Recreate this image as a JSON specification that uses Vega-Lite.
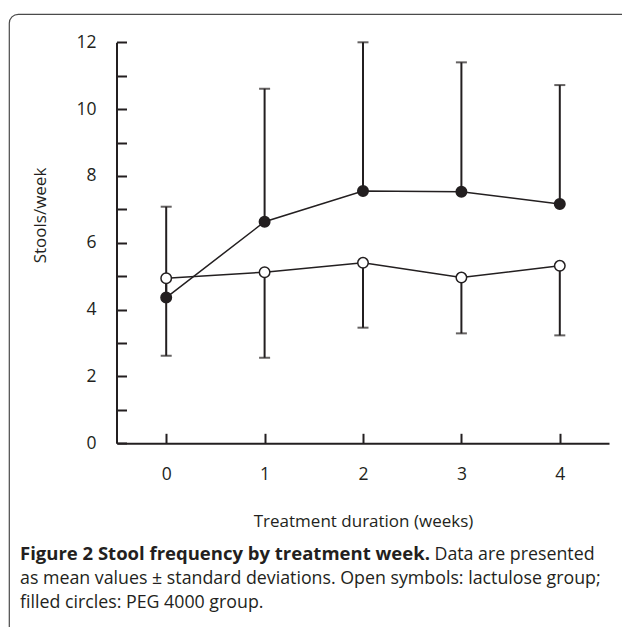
{
  "$schema": "https://vega.github.io/schema/vega-lite/v6.json",
  "width": 640,
  "height": 640,
  "autosize": {"type": "none"},
  "padding": {"left": 9, "top": 14, "right": 0, "bottom": 0},
  "background": "white",
  "config": {
    "view": {"stroke": "#4a4a4a", "strokeWidth": 1.2, "cornerRadius": 9, "fill": "white"},
    "font": "Open Sans",
    "axis": {
      "grid": false,
      "domainColor": "#231f20",
      "domainWidth": 2,
      "tickColor": "#231f20",
      "tickWidth": 2,
      "tickSize": -10,
      "labelFont": "Open Sans",
      "labelFontSize": 17.5,
      "labelColor": "#231f20",
      "titleFont": "Open Sans",
      "titleFontSize": 17,
      "titleFontWeight": "normal",
      "titleColor": "#231f20"
    }
  },
  "title": {
    "text": "Figure 2 Stool frequency by treatment week.",
    "subtitle": ["as mean values ± standard deviations. Open symbols: lactulose group;", "filled circles: PEG 4000 group."],
    "orient": "bottom",
    "anchor": "start",
    "frame": "group",
    "offset": 0,
    "dx": 11,
    "dy": -109,
    "baseline": "top",
    "font": "Open Sans",
    "fontSize": 18.5,
    "fontWeight": "bold",
    "color": "#231f20",
    "subtitleFont": "Open Sans",
    "subtitleFontSize": 17.8,
    "subtitleColor": "#231f20",
    "subtitlePadding": 6,
    "subtitleLineHeight": 24.5
  },
  "datasets": {
    "means": [
      {"week": 0, "group": "PEG 4000", "mean": 4.36},
      {"week": 1, "group": "PEG 4000", "mean": 6.63},
      {"week": 2, "group": "PEG 4000", "mean": 7.55},
      {"week": 3, "group": "PEG 4000", "mean": 7.53},
      {"week": 4, "group": "PEG 4000", "mean": 7.16},
      {"week": 0, "group": "lactulose", "mean": 4.94},
      {"week": 1, "group": "lactulose", "mean": 5.12},
      {"week": 2, "group": "lactulose", "mean": 5.40},
      {"week": 3, "group": "lactulose", "mean": 4.96},
      {"week": 4, "group": "lactulose", "mean": 5.31}
    ],
    "bars": [
      {"week": 0, "group": "PEG 4000", "start": 4.36, "cap": 7.08},
      {"week": 1, "group": "PEG 4000", "start": 6.63, "cap": 10.61},
      {"week": 2, "group": "PEG 4000", "start": 7.55, "cap": 12.0},
      {"week": 3, "group": "PEG 4000", "start": 7.53, "cap": 11.40},
      {"week": 4, "group": "PEG 4000", "start": 7.16, "cap": 10.72},
      {"week": 0, "group": "lactulose", "start": 4.94, "cap": 2.62},
      {"week": 1, "group": "lactulose", "start": 5.12, "cap": 2.56},
      {"week": 2, "group": "lactulose", "start": 5.40, "cap": 3.46},
      {"week": 3, "group": "lactulose", "start": 4.96, "cap": 3.29},
      {"week": 4, "group": "lactulose", "start": 5.31, "cap": 3.23}
    ]
  },
  "resolve": {"axis": {"x": "independent", "y": "independent"}},
  "layer": [
    {
      "data": {"name": "bars"},
      "mark": {"type": "rule", "color": "#231f20", "strokeWidth": 2},
      "encoding": {
        "x": {
          "field": "week", "type": "quantitative",
          "scale": {"domain": [-0.5, 4.5], "range": [108, 600], "nice": false, "zero": false},
          "axis": {
            "orient": "bottom", "offset": -210.7, "values": [0, 1, 2, 3, 4], "format": "d",
            "labelPadding": 32, "title": "Treatment duration (weeks)",
            "titleY": 78, "titleBaseline": "middle"
          }
        },
        "y": {
          "field": "start", "type": "quantitative",
          "scale": {"domain": [0, 12], "range": [429.3, 28.3], "nice": false},
          "axis": {
            "orient": "left", "offset": -107.5, "values": [0, 1, 2, 3, 4, 5, 6, 7, 8, 9, 10, 11, 12],
            "labelExpr": "datum.value % 2 === 0 ? datum.label : ''",
            "labelPadding": 30.5, "title": "Stools/week",
            "titleX": -76.5, "titleY": 201, "titleBaseline": "middle", "titleAngle": 270
          }
        },
        "y2": {"field": "cap"}
      }
    },
    {
      "data": {"name": "bars"},
      "mark": {"type": "tick", "orient": "horizontal", "color": "#231f20", "size": 11, "thickness": 2},
      "encoding": {
        "x": {
          "field": "week", "type": "quantitative",
          "axis": {
            "orient": "top", "offset": 0, "domain": false, "ticks": false, "labels": false,
            "title": "Data are presented", "titleX": 425, "titleY": 531,
            "titleAlign": "left", "titleBaseline": "top", "titleFontSize": 17.8, "titleAngle": 0
          }
        },
        "y": {"field": "cap", "type": "quantitative", "axis": null}
      }
    },
    {
      "data": {"name": "means"},
      "mark": {"type": "line", "color": "#231f20", "strokeWidth": 1.5},
      "encoding": {
        "x": {"field": "week", "type": "quantitative", "axis": null},
        "y": {"field": "mean", "type": "quantitative", "axis": null},
        "detail": {"field": "group"}
      }
    },
    {
      "data": {"name": "means"},
      "mark": {"type": "point", "filled": true, "opacity": 1, "stroke": "#231f20", "strokeWidth": 1.5, "size": 110},
      "encoding": {
        "x": {"field": "week", "type": "quantitative", "axis": null},
        "y": {"field": "mean", "type": "quantitative", "axis": null},
        "fill": {
          "field": "group", "type": "nominal",
          "scale": {"domain": ["PEG 4000", "lactulose"], "range": ["#231f20", "white"]},
          "legend": null
        }
      }
    }
  ]
}
